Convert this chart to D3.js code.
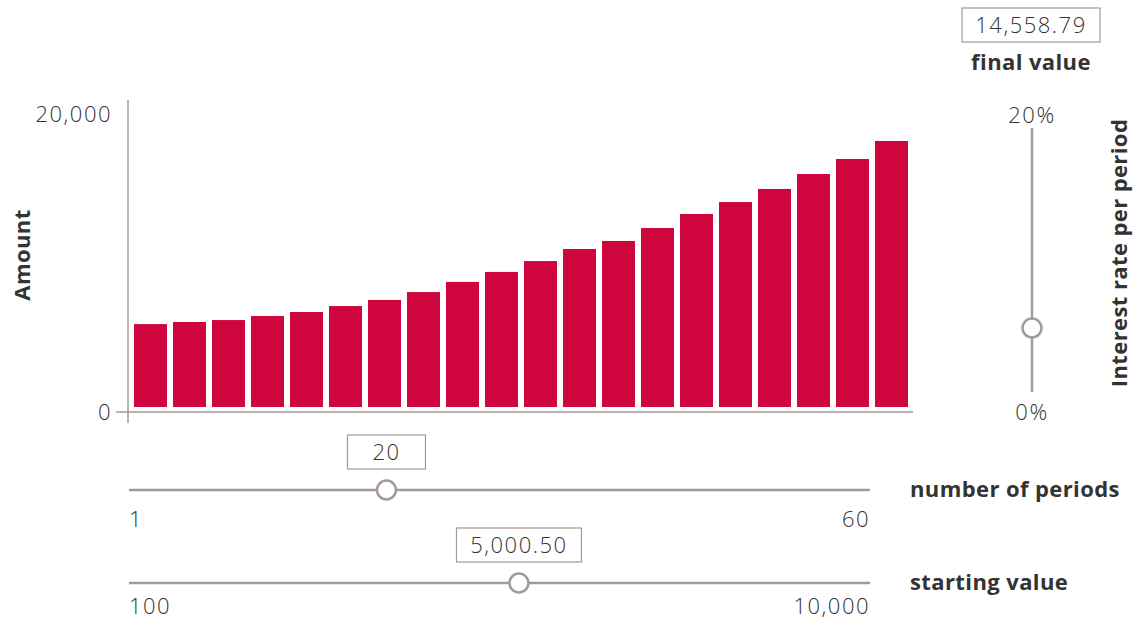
<!DOCTYPE html>
<html>
<head>
<meta charset="utf-8">
<script src="https://cdn.jsdelivr.net/npm/d3@7"></script>
<style>
  body { margin: 0; background: #fff; }
  text { font-family: "Open Sans", Lato, sans-serif; fill: #333; }
  .light { font-weight: 300; font-size: 22px; letter-spacing: 1.5px; }
  .bold { font-weight: 700; font-size: 22px; letter-spacing: 0.4px; }
</style>
</head>
<body>
<div id="chart"></div>
<script>
// Data
var periods = d3.range(1, 21);
var amounts = [5900, 6040, 6170, 6440, 6710, 7110, 7520, 8050, 8730, 9400,
               10130, 10940, 11480, 12350, 13290, 14090, 14970, 15970, 16980, 18190];
var yTicks = [0, 20000];

var finalValue = "14,558.79";
var rateRange = [0, 20], rateKnob = 4.85;
var periodRange = [1, 60], periodLabel = "20", periodKnob = 21.5;
var startRange = [100, 10000], startLabel = "5,000.50", startKnob = 5310;

var W = 1145, H = 621;
var red = "#cf053d", grey = "#a39a95";

var svg = d3.select("#chart").append("svg")
    .attr("width", W)
    .attr("height", H);

// Scales for the bar chart
var x = d3.scaleBand()
    .domain(periods)
    .range([131, 911])
    .paddingInner(0.154)
    .paddingOuter(0.077);

var y = d3.scaleLinear()
    .domain([0, 20000])
    .range([412, 114]);

// Axes
svg.append("line")
    .attr("x1", 128).attr("x2", 128)
    .attr("y1", 100).attr("y2", 423)
    .style("stroke", grey).style("stroke-width", 1.5);

svg.append("line")
    .attr("x1", 116).attr("x2", 913)
    .attr("y1", y(0)).attr("y2", y(0))
    .style("stroke", grey).style("stroke-width", 1.5);

svg.selectAll(".ytick")
    .data(yTicks)
    .enter().append("text")
    .attr("class", "ytick light")
    .attr("x", 112)
    .attr("y", function(d) { return y(d); })
    .attr("dy", "0.35em")
    .attr("text-anchor", "end")
    .text(d3.format(","));

svg.append("text")
    .attr("class", "bold")
    .attr("transform", "translate(30,255) rotate(-90)")
    .attr("text-anchor", "middle")
    .text("Amount");

// Bars (sit a few pixels above the baseline)
svg.selectAll("rect.bar")
    .data(amounts)
    .enter().append("rect")
    .attr("class", "bar")
    .attr("x", function(d, i) { return x(periods[i]); })
    .attr("width", x.bandwidth())
    .attr("y", function(d) { return y(d); })
    .attr("height", function(d) { return y(0) - y(d) - 5; })
    .style("fill", red);

// Value boxes
function valueBox(cx, cy, w, label) {
    svg.append("rect")
        .attr("x", cx - w / 2).attr("y", cy - 17)
        .attr("width", w).attr("height", 34)
        .style("fill", "#fff")
        .style("stroke", grey).style("stroke-width", 1.2);
    svg.append("text")
        .attr("class", "light")
        .attr("x", cx).attr("y", cy)
        .attr("dy", "0.35em")
        .attr("text-anchor", "middle")
        .text(label);
}

valueBox(1031, 25, 138, finalValue);
svg.append("text")
    .attr("class", "bold")
    .attr("x", 1031).attr("y", 62)
    .attr("dy", "0.35em")
    .attr("text-anchor", "middle")
    .text("final value");

// Vertical interest rate slider
var r = d3.scaleLinear().domain(rateRange).range([392, 128]);

svg.append("line")
    .attr("x1", 1032).attr("x2", 1032)
    .attr("y1", r(rateRange[0])).attr("y2", r(rateRange[1]))
    .style("stroke", grey).style("stroke-width", 2.5);

svg.append("text").attr("class", "light")
    .attr("x", 1032).attr("y", 115).attr("dy", "0.35em")
    .attr("text-anchor", "middle")
    .text(rateRange[1] + "%");
svg.append("text").attr("class", "light")
    .attr("x", 1032).attr("y", 412).attr("dy", "0.35em")
    .attr("text-anchor", "middle")
    .text(rateRange[0] + "%");

svg.append("circle")
    .attr("cx", 1032).attr("cy", r(rateKnob)).attr("r", 9.5)
    .style("fill", "#fff").style("stroke", grey).style("stroke-width", 2.5);

svg.append("text")
    .attr("class", "bold")
    .attr("transform", "translate(1127,253) rotate(-90)")
    .attr("text-anchor", "middle")
    .text("Interest rate per period");

// Horizontal sliders
function slider(cy, range, knob, label, boxW, lo, hi, title, labelOff) {
    var s = d3.scaleLinear().domain(range).range([129, 870]);
    svg.append("line")
        .attr("x1", s(range[0])).attr("x2", s(range[1]))
        .attr("y1", cy).attr("y2", cy)
        .style("stroke", grey).style("stroke-width", 2.5);
    valueBox(s(knob), cy - 38, boxW, label);
    svg.append("circle")
        .attr("cx", s(knob)).attr("cy", cy).attr("r", 9.5)
        .style("fill", "#fff").style("stroke", grey).style("stroke-width", 2.5);
    svg.append("text").attr("class", "light")
        .attr("x", s(range[0])).attr("y", cy + labelOff).attr("dy", "0.35em")
        .text(lo);
    svg.append("text").attr("class", "light")
        .attr("x", s(range[1])).attr("y", cy + labelOff).attr("dy", "0.35em")
        .attr("text-anchor", "end")
        .text(hi);
    svg.append("text").attr("class", "bold")
        .attr("x", 910).attr("y", cy).attr("dy", "0.3em")
        .text(title);
}

slider(490, periodRange, periodKnob, periodLabel, 78, "1", "60", "number of periods", 29);
slider(583, startRange, startKnob, startLabel, 125, "100", "10,000", "starting value", 23);
</script>
</body>
</html>
